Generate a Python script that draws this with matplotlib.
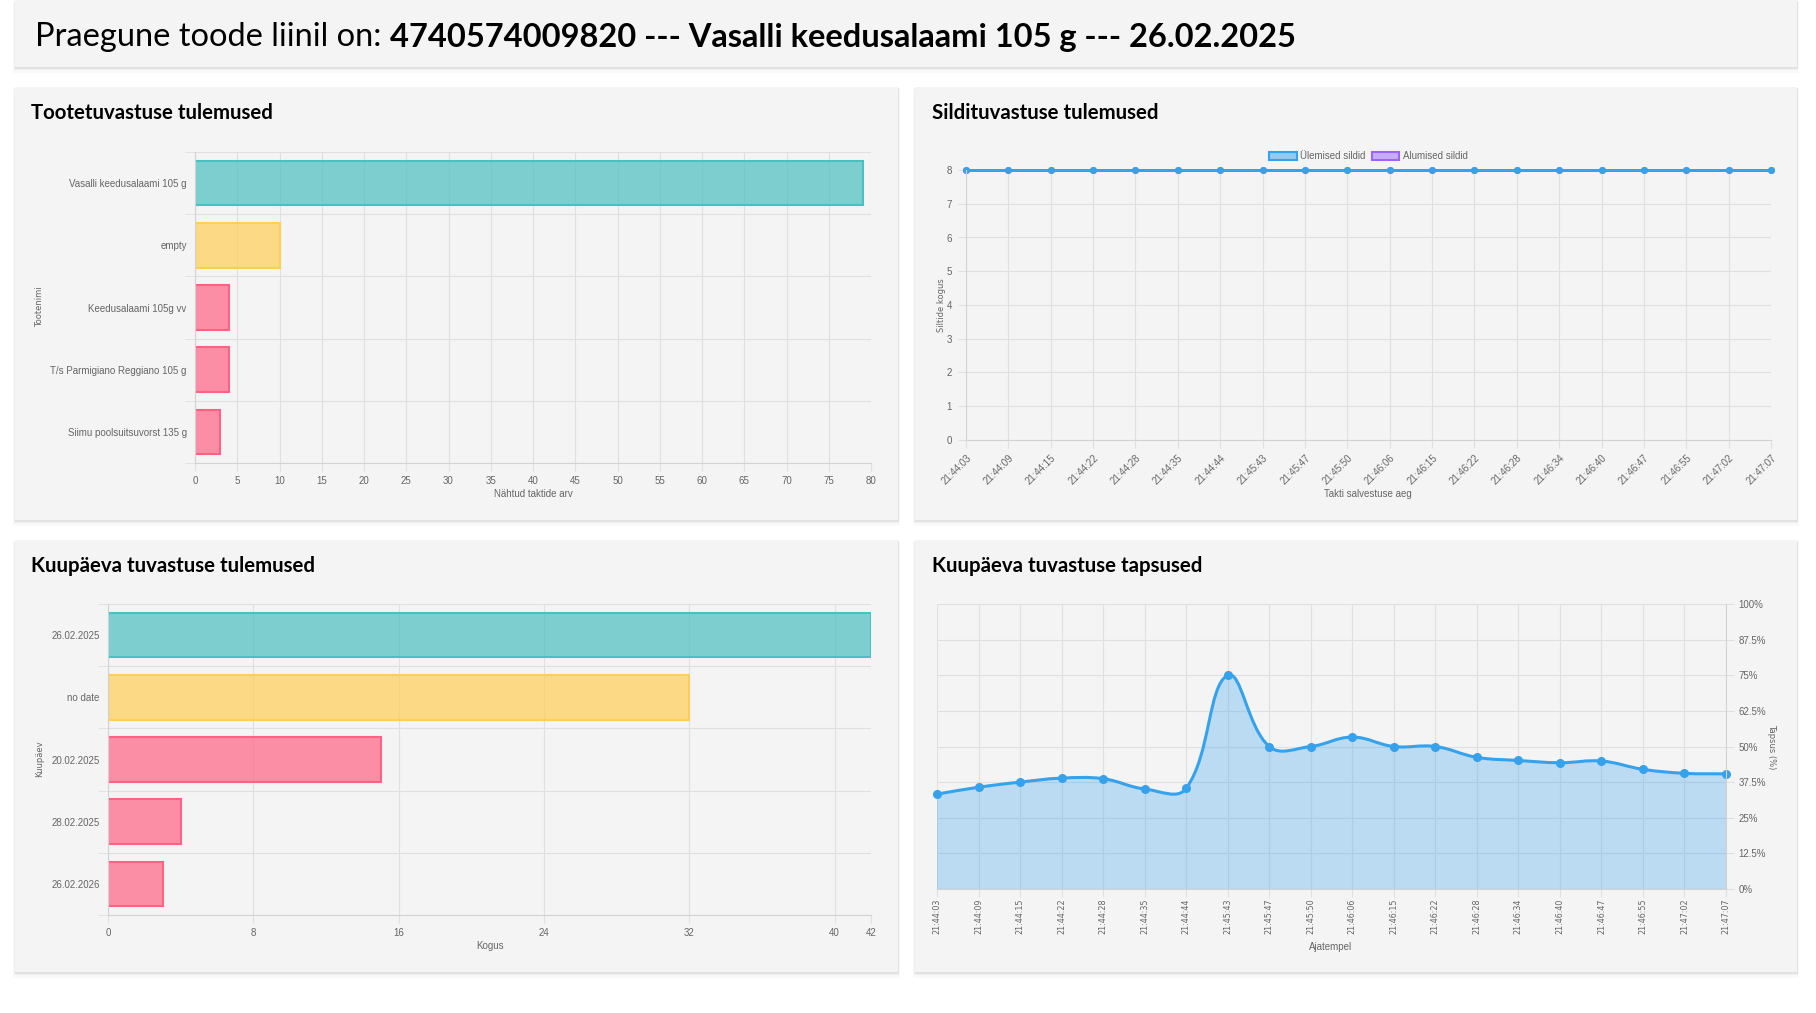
import numpy as np
import matplotlib
matplotlib.use("Agg")
import matplotlib.pyplot as plt
from matplotlib.patches import Rectangle, PathPatch
from matplotlib.path import Path

W, H = 1816, 1013

# --- andmed ---
pealkiri_tavaline = "Praegune toode liinil on: "
pealkiri_paks = "4740574009820 --- Vasalli keedusalaami 105 g --- 26.02.2025"

toote_nimed = ["Vasalli keedusalaami 105 g", "empty", "Keedusalaami 105g vv",
               "T/s Parmigiano Reggiano 105 g", "Siimu poolsuitsuvorst 135 g"]
toote_arv = [79, 10, 4, 4, 3]
toote_tyyp = ["ok", "tyhi", "vale", "vale", "vale"]

kuupaevad = ["26.02.2025", "no date", "20.02.2025", "28.02.2025", "26.02.2026"]
kuupaeva_arv = [42, 32, 15, 4, 3]
kuupaeva_tyyp = ["ok", "tyhi", "vale", "vale", "vale"]

ajad = ["21:44:03", "21:44:09", "21:44:15", "21:44:22", "21:44:28", "21:44:35",
        "21:44:44", "21:45:43", "21:45:47", "21:45:50", "21:46:06", "21:46:15",
        "21:46:22", "21:46:28", "21:46:34", "21:46:40", "21:46:47", "21:46:55",
        "21:47:02", "21:47:07"]
ylemised = [8, 8, 8, 8, 8, 8, 8, 8, 8, 8, 8, 8, 8, 8, 8, 8, 8, 8, 8, 8]
alumised = [8, 8, 8, 8, 8, 8, 8, 8, 8, 8, 8, 8, 8, 8, 8, 8, 8, 8, 8, 8]
tapsus = [33.3, 35.7, 37.5, 38.9, 38.7, 35.1, 35.3, 75.0, 50.0, 50.0,
          53.3, 50.0, 50.0, 46.2, 45.1, 44.3, 44.9, 42.0, 40.6, 40.4]

# --- stiil ---
varvid = {
    "ok": (75 / 255, 192 / 255, 192 / 255),
    "tyhi": (255 / 255, 206 / 255, 86 / 255),
    "vale": (255 / 255, 99 / 255, 132 / 255),
}
sinine = (54 / 255, 162 / 255, 235 / 255)
lilla = (153 / 255, 102 / 255, 255 / 255)
paneel = "#f4f4f4"
ruudustik = "#e0e0e0"
telg = "#d2d2d2"
tekst = "#666666"
plt.rcParams["font.family"] = ["Liberation Sans", "DejaVu Sans"]

fig = plt.figure(figsize=(W / 100, H / 100), dpi=100)
fig.patch.set_facecolor("white")

bg = fig.add_axes([0, 0, 1, 1])
bg.set_xlim(0, W)
bg.set_ylim(H, 0)
bg.axis("off")


def kast(x0, y0, x1, y1):
    for k, a in [(4, 0.025), (2, 0.04), (1, 0.05)]:
        bg.add_patch(Rectangle((x0 - k / 2, y0 + k / 2), x1 - x0 + k, y1 - y0 + k,
                               facecolor="black", alpha=a, edgecolor="none"))
    bg.add_patch(Rectangle((x0, y0), x1 - x0, y1 - y0, facecolor=paneel, edgecolor="none"))


kast(15, 0, 1797, 67)
kast(15, 87, 898, 520)
kast(915, 87, 1797, 520)
kast(15, 540, 898, 972)
kast(915, 540, 1797, 972)

t1 = bg.text(35, 37, pealkiri_tavaline, fontsize=23.5, family="Lato", va="center", color="black")
bg.annotate(pealkiri_paks, xy=(1, 0.5), xycoords=t1, fontsize=23.5, family="Lato",
            fontweight="bold", va="center", ha="left", color="black")

for x, y, s in [(31, 113, "Tootetuvastuse tulemused"), (932, 113, "Sildituvastuse tulemused"),
                (31, 566, "Kuupäeva tuvastuse tulemused"), (932, 566, "Kuupäeva tuvastuse tapsused")]:
    bg.text(x, y, s, fontsize=14.7, family="Lato", fontweight="bold", va="center", color="black")

# teljepealkirjad
bg.text(533, 494, "Nähtud taktide arv", fontsize=7, color=tekst, ha="center", va="center")
bg.text(40, 307, "Tootenimi", fontsize=6, family="DejaVu Sans", color=tekst, rotation=90, ha="center", va="center")
bg.text(1368, 494, "Takti salvestuse aeg", fontsize=7, color=tekst, ha="center", va="center")
bg.text(941, 305, "Siltide kogus", fontsize=6, family="DejaVu Sans", color=tekst, rotation=90, ha="center", va="center")
bg.text(490, 946, "Kogus", fontsize=7, color=tekst, ha="center", va="center")
bg.text(40, 759, "Kuupäev", fontsize=6, family="DejaVu Sans", color=tekst, rotation=90, ha="center", va="center")
bg.text(1331, 947, "Ajatempel", fontsize=7, color=tekst, ha="center", va="center")
bg.text(1772, 747, "Tapsus (%)", fontsize=6, family="DejaVu Sans", color=tekst, rotation=270, ha="center", va="center")


def telg_px(x0, y0, x1, y1):
    ax = fig.add_axes([x0 / W, 1 - y1 / H, (x1 - x0) / W, (y1 - y0) / H])
    ax.patch.set_alpha(0)
    ax.set_axisbelow(True)
    for s in ["top", "right"]:
        ax.spines[s].set_visible(False)
    for s in ["left", "bottom"]:
        ax.spines[s].set_color(telg)
    ax.tick_params(labelsize=7, labelcolor=tekst, color=ruudustik)
    return ax


def tulpdiagramm(ax, nimed, arvud, tyybid, xmax, xticks):
    n = len(nimed)
    fill = [(*varvid[t], 0.7) for t in tyybid]
    edge = [varvid[t] for t in tyybid]
    ax.barh(range(n), arvud, height=0.72, color=fill, edgecolor=edge, linewidth=1.5)
    ax.set_xlim(0, xmax)
    ax.set_ylim(n - 0.5, -0.5)
    ax.set_xticks(xticks)
    ax.set_yticks(range(n))
    ax.set_yticklabels(nimed)
    ax.set_yticks(np.arange(-0.5, n, 1), minor=True)
    ax.grid(axis="x", color=ruudustik, linewidth=0.8)
    ax.grid(axis="y", which="minor", color=ruudustik, linewidth=0.8)
    ax.tick_params(axis="y", which="major", length=0, pad=6)
    ax.tick_params(axis="y", which="minor", length=7, color=ruudustik)
    ax.tick_params(axis="x", length=6, pad=3)


ax1 = telg_px(195, 152, 871, 463)
tulpdiagramm(ax1, toote_nimed, toote_arv, toote_tyyp, 80, range(0, 81, 5))

ax3 = telg_px(108, 604, 871, 915)
tulpdiagramm(ax3, kuupaevad, kuupaeva_arv, kuupaeva_tyyp, 42, [0, 8, 16, 24, 32, 40, 42])

# sildid
ax2 = telg_px(966, 170, 1771, 440)
x = np.arange(len(ajad))
ax2.plot(x, alumised, color=lilla, lw=2, marker="o", ms=4, clip_on=False)
ax2.plot(x, ylemised, color=sinine, lw=2, marker="o", ms=4, clip_on=False)
ax2.set_xlim(0, len(ajad) - 1)
ax2.set_ylim(0, 8)
ax2.set_yticks(range(0, 9))
ax2.set_xticks(x)
ax2.set_xticklabels(ajad, rotation=45, ha="right", rotation_mode="anchor")
ax2.grid(color=ruudustik, linewidth=0.8)
ax2.tick_params(axis="x", length=6, pad=3)
ax2.tick_params(axis="y", length=6, pad=4)
kastid = [Rectangle((0, 0), 1, 1, facecolor=(*sinine, 0.5), edgecolor=sinine, lw=1.5),
          Rectangle((0, 0), 1, 1, facecolor=(*lilla, 0.5), edgecolor=lilla, lw=1.5)]
ax2.legend(kastid, ["Ülemised sildid", "Alumised sildid"], loc="lower center",
           bbox_to_anchor=(0.5, 1.0), ncol=2, frameon=False, fontsize=7, labelcolor=tekst,
           handlelength=2.8, handleheight=0.9, handletextpad=0.4, columnspacing=0.6)

# tapsus
ax4 = telg_px(937, 604, 1726, 889)
ax4.set_xlim(0, len(ajad) - 1)
ax4.set_ylim(0, 100)
ax4.spines["right"].set_visible(True)
ax4.spines["right"].set_color(telg)
ax4.spines["left"].set_visible(False)
ax4.yaxis.tick_right()
ax4.set_yticks(np.arange(0, 100.1, 12.5))
ax4.set_yticklabels([f"{v:g}%" for v in np.arange(0, 100.1, 12.5)])
ax4.set_xticks(x)
ax4.set_xticklabels(ajad, rotation=90, family="DejaVu Sans", fontsize=5.8)
ax4.grid(color=ruudustik, linewidth=0.8)
ax4.tick_params(axis="x", length=6, pad=1)
ax4.tick_params(axis="y", length=6, pad=3)

# Chart.js stiilis sujuv joon (tension 0.4)
pts = ax4.transData.transform(np.column_stack([x, tapsus]))
n = len(pts)
ctrl = []
for i in range(n):
    prev = pts[max(i - 1, 0)]
    cur = pts[i]
    nxt = pts[min(i + 1, n - 1)]
    d01 = np.hypot(*(cur - prev))
    d12 = np.hypot(*(nxt - cur))
    tot = d01 + d12
    fa = 0.4 * (d01 / tot if tot else 0)
    fb = 0.4 * (d12 / tot if tot else 0)
    ctrl.append((cur - fa * (nxt - prev), cur + fb * (nxt - prev)))
verts = [pts[0]]
codes = [Path.MOVETO]
for i in range(1, n):
    verts += [ctrl[i - 1][1], ctrl[i][0], pts[i]]
    codes += [Path.CURVE4] * 3
joon = ax4.transData.inverted().transform(np.array(verts))
ala = np.vstack([joon, [[x[-1], 0], [x[0], 0], [x[0], tapsus[0]]]])
ala_codes = codes + [Path.LINETO, Path.LINETO, Path.CLOSEPOLY]
ax4.add_patch(PathPatch(Path(ala, ala_codes), facecolor=(*sinine, 0.3), edgecolor="none"))
ax4.add_patch(PathPatch(Path(joon, codes), facecolor="none", edgecolor=sinine, lw=2.2))
ax4.plot(x, tapsus, "o", color=sinine, ms=5.5, clip_on=False)

fig.savefig("out.png", dpi=100)
